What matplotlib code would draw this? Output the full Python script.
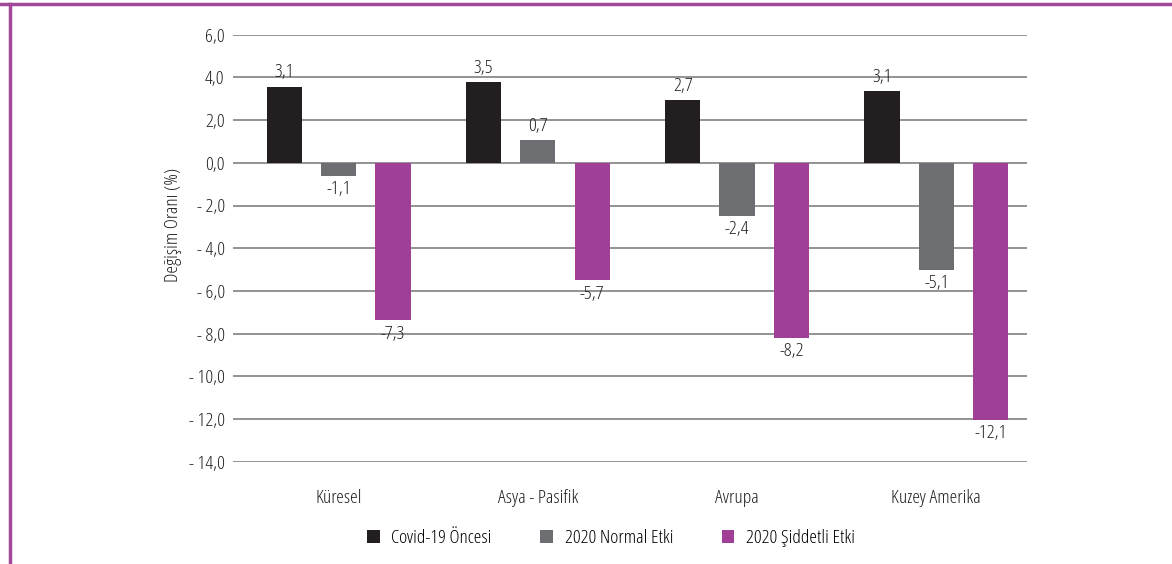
import matplotlib
matplotlib.use("Agg")
import matplotlib.pyplot as plt
from matplotlib.lines import Line2D
from matplotlib.patches import Patch
import numpy as np

plt.rcParams['font.family'] = ['Open Sans', 'DejaVu Sans']
plt.rcParams['font.stretch'] = 'condensed'
plt.rcParams['font.weight'] = 300

categories = ["Küresel", "Asya - Pasifik", "Avrupa", "Kuzey Amerika"]
series_names = ["Covid-19 Öncesi", "2020 Normal Etki", "2020 Şiddetli Etki"]
# bar heights as drawn in the picture
heights = [
    [3.57, 3.79, 2.94, 3.37],
    [-0.61, 1.07, -2.50, -5.00],
    [-7.38, -5.51, -8.20, -12.05],
]
# value labels as printed
labels = [
    ["3,1", "3,5", "2,7", "3,1"],
    ["-1,1", "0,7", "-2,4", "-5,1"],
    ["-7,3", "-5,7", "-8,2", "-12,1"],
]
yticks = [6, 4, 2, 0, -2, -4, -6, -8, -10, -12, -14]
colors = ["#231f20", "#6d6e71", "#a03f96"]
frame_color = "#a3479b"
text_color = "#231f20"
fs = 14

W, H = 1172, 564
fig = plt.figure(figsize=(W / 100, H / 100), dpi=100)
ax = fig.add_axes([233 / W, 1 - 461.7 / H, (1027 - 233) / W, (461.7 - 34.7) / H])

x = np.arange(len(categories))
width = 0.177
step = 0.273
for i, (vals, labs, c) in enumerate(zip(heights, labels, colors)):
    pos = x + (i - 1) * step
    ax.bar(pos, vals, width=width, color=c, zorder=3)
    for p, v, t in zip(pos, vals, labs):
        if v >= 0:
            ax.text(p, v + 0.25, t, ha="center", va="bottom", fontsize=fs, color=text_color)
        else:
            ax.text(p, v - 0.2, t, ha="center", va="top", fontsize=fs, color=text_color)

ax.set_ylim(-14, 6)
ax.set_xlim(-0.53, 3.455)
ax.set_yticks(yticks)
ax.set_yticklabels([("- " if v < 0 else "") + f"{abs(v):.1f}".replace(".", ",") for v in yticks],
                   fontsize=fs, color=text_color)
ax.set_xticks(x)
ax.set_xticklabels(categories, fontsize=fs, color=text_color)
ax.tick_params(axis="x", length=0, pad=20)
ax.tick_params(axis="y", length=0, pad=6)
ax.yaxis.grid(True, color="#8a8a8a", linewidth=1.3, zorder=0)
for s in ax.spines.values():
    s.set_visible(False)
ax.set_ylabel("Değişim Oranı (%)", fontsize=fs, color=text_color)
ax.yaxis.set_label_coords(-0.064, 0.555)

handles = [Patch(facecolor=c, edgecolor="none") for c in colors]
fig.legend(handles, series_names, loc="center", bbox_to_anchor=(611 / W, 1 - 538 / H),
           ncol=3, frameon=False, fontsize=fs, handlelength=0.65, handleheight=0.65,
           handletextpad=0.6, columnspacing=2.5)

# magenta frame lines on top and left
fig.add_artist(Line2D([0, 1], [1 - 4 / H, 1 - 4 / H], transform=fig.transFigure,
                      color=frame_color, linewidth=2.5))
fig.add_artist(Line2D([10 / W, 10 / W], [0, 1 - 4 / H], transform=fig.transFigure,
                      color=frame_color, linewidth=2.5))

fig.savefig("out.png", dpi=100)
